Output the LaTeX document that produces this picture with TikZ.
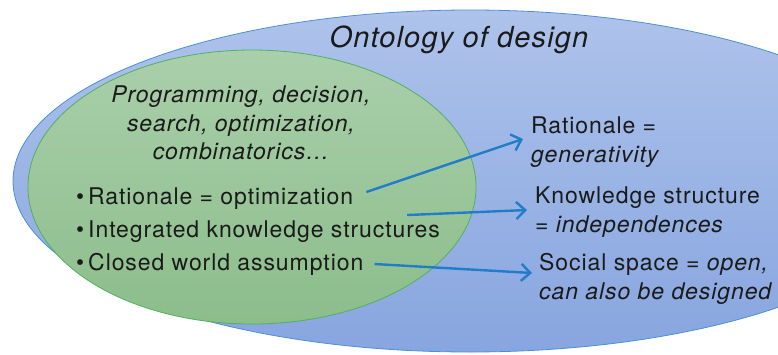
\documentclass[tikz,border=0pt]{standalone}
\usepackage{fontspec}
\setmainfont{TeX Gyre Heros}[LetterSpace=4]
\usetikzlibrary{arrows.meta,positioning}

\definecolor{skytop}{HTML}{AEC3EB}
\definecolor{skybot}{HTML}{87A5DF}
\definecolor{skyline}{HTML}{4A90D9}
\definecolor{leaftop}{HTML}{AACFAB}
\definecolor{leafbot}{HTML}{8CBD8B}
\definecolor{leafline}{HTML}{52B060}
\definecolor{linkblue}{HTML}{217DC8}
\definecolor{ink}{HTML}{1A1A1A}

\tikzset{
  txt/.style={inner sep=0pt, text=ink, font=\fontsize{23}{29}\selectfont},
  item/.style={txt, anchor=base west},
  note/.style={txt, anchor=north west, align=left},
  link/.style={linkblue, line width=2.4pt, -{Straight Barb[length=9pt,width=17pt]}},
}

\begin{document}
\begin{tikzpicture}[x=1pt,y=-1pt]
            \useasboundingbox (0,0) rectangle (778,354);
            \clip (0,0) rectangle (778,354);
            % the two regions
            \shade [top color=skytop, bottom color=skybot, draw=skyline, line width=0.8pt]
                (470,181) ellipse [x radius=457pt, y radius=171pt];
            \shade [top color=leaftop, bottom color=leafbot, draw=leafline, line width=0.8pt]
                (252,187) ellipse [x radius=224pt, y radius=137pt];
            \node [txt, anchor=base, font=\fontsize{29}{34}\selectfont\itshape] (title) at (459,47) {Ontology of design};
            % inner region
            \node [txt, anchor=north, align=center, font=\fontsize{23}{28.5}\selectfont\itshape] (scope) at (241,86)
                {Programming, decision,\\search, optimization,\\combinatorics\dots};
            \node [item] (ropt) at (76,204) {\textbullet\hspace{4pt}Rationale = optimization};
            \node [item] (kint) at (76,237) {\textbullet\hspace{4pt}Integrated knowledge structures};
            \node [item] (cwa) at (76,270) {\textbullet\hspace{4pt}Closed world assumption};
            % outer region
            \node [note] (rgen) at (531,117) {Rationale =\\\textit{generativity}};
            \node [note] (kind) at (535,187) {Knowledge structure\\= \textit{independences}};
            \node [note] (sopen) at (539,253) {Social space = \textit{open,}\\\textit{can also be designed}};
            % links
            \draw [link] ([xshift=13pt,yshift=12pt]ropt.base east) -- ([xshift=-8pt,yshift=-22pt]rgen.north west);
            \draw [link] ([xshift=-33pt,yshift=5pt]kint.north east) -- ([xshift=-8pt,yshift=-23pt]kind.north west);
            \draw [link] ([xshift=11pt,yshift=6pt]cwa.base east) -- ([xshift=-7pt,yshift=-20pt]sopen.north west);
\end{tikzpicture}
\end{document}
